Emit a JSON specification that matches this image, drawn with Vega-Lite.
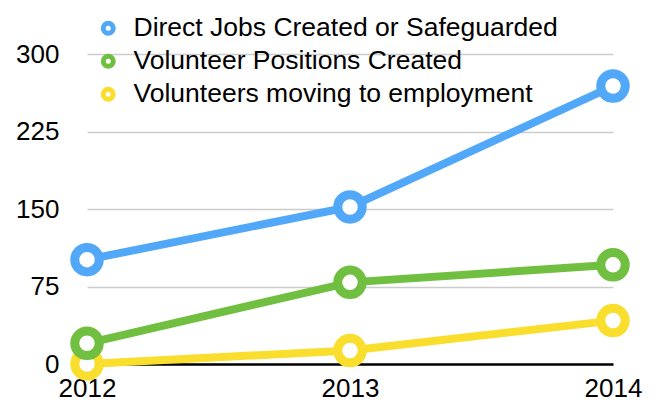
{
  "$schema": "https://vega.github.io/schema/vega-lite/v6.json",
  "autosize": {"type": "none"},
  "padding": {"left": 87, "top": 54, "right": 45, "bottom": 39},
  "width": 526,
  "height": 310,
  "background": "white",
  "config": {
    "view": {"stroke": null},
    "font": "Liberation Sans",
    "axis": {"labelFont": "Liberation Sans", "labelFontSize": 26, "labelColor": "black", "titleFontSize": 26}
  },
  "data": {
    "values": [
      {"year": "2012", "series": "Volunteers moving to employment", "value": 0},
      {"year": "2013", "series": "Volunteers moving to employment", "value": 13},
      {"year": "2014", "series": "Volunteers moving to employment", "value": 42},
      {"year": "2012", "series": "Volunteer Positions Created", "value": 20},
      {"year": "2013", "series": "Volunteer Positions Created", "value": 79},
      {"year": "2014", "series": "Volunteer Positions Created", "value": 96},
      {"year": "2012", "series": "Direct Jobs Created or Safeguarded", "value": 101},
      {"year": "2013", "series": "Direct Jobs Created or Safeguarded", "value": 152},
      {"year": "2014", "series": "Direct Jobs Created or Safeguarded", "value": 269}
    ]
  },
  "encoding": {
    "x": {
      "field": "year", "type": "ordinal",
      "scale": {"type": "point", "padding": 0},
      "axis": {"title": null, "labelAngle": 0, "ticks": false, "domainColor": "black", "domainWidth": 2.5, "labelBaseline": "alphabetic", "labelPadding": 32, "grid": false}
    },
    "y": {
      "field": "value", "type": "quantitative",
      "scale": {"domain": [0, 300], "nice": false},
      "axis": {"title": null, "values": [0, 75, 150, 225, 300], "ticks": false, "domain": false, "labelPadding": 28, "gridColor": "#cccccc", "gridWidth": 1.5, "labelBaseline": "middle"}
    },
    "color": {
      "field": "series", "type": "nominal",
      "scale": {
        "domain": ["Direct Jobs Created or Safeguarded", "Volunteer Positions Created", "Volunteers moving to employment"],
        "range": ["#52A8F8", "#70BF41", "#FADE2E"]
      },
      "legend": {
        "orient": "none", "legendX": 8, "legendY": -39, "title": null,
        "labelFont": "Liberation Sans", "labelFontSize": 26.5, "labelColor": "black",
        "symbolType": "circle", "symbolSize": 100, "symbolStrokeWidth": 5, "symbolFillColor": "white",
        "rowPadding": 2, "labelOffset": 12, "labelLimit": 600
      }
    }
  },
  "layer": [
    {"mark": {"type": "line", "strokeWidth": 8}},
    {"mark": {"type": "point", "filled": false, "fill": "white", "fillOpacity": 1, "size": 600, "strokeWidth": 9, "opacity": 1}}
  ]
}
